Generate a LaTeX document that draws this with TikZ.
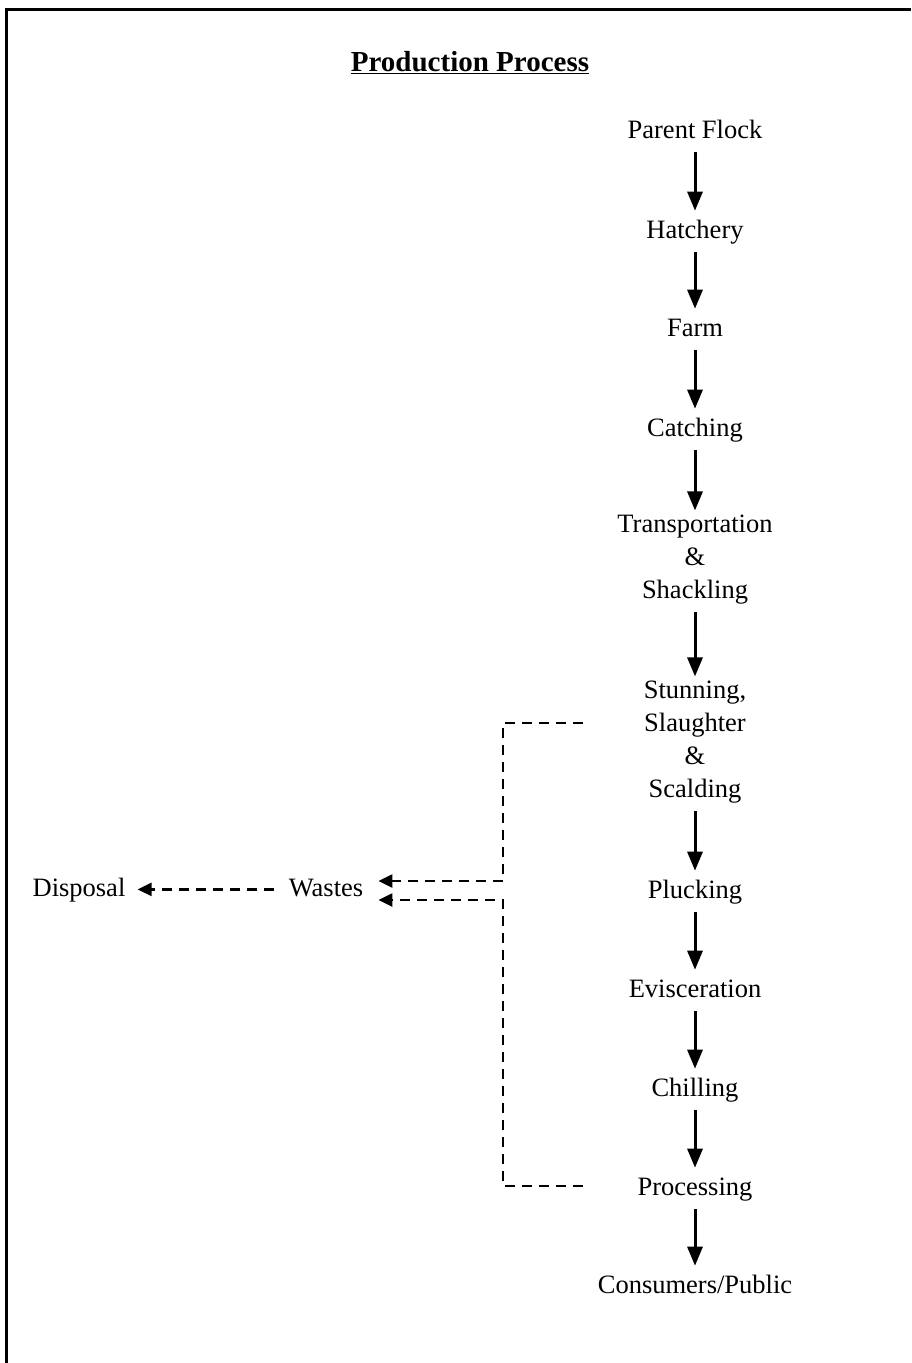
\documentclass[tikz,border=0pt]{standalone}
\usepackage{fontspec}
\setmainfont{Liberation Serif}
\usetikzlibrary{arrows.meta}
\tikzset{
  stage/.style={inner xsep=2pt, inner ysep=4pt, align=center,
    font=\fontsize{26.5}{33}\selectfont,
    execute at begin node=\strut, execute at end node=\strut},
  flow/.style={line width=3pt, -{Triangle[length=19pt,width=15pt]}},
  waste/.style={line width=2.3pt, dash pattern=on 10pt off 7pt,
    -{Triangle[length=14pt,width=13pt]}},
  frame/.style={line width=3pt}
}
\begin{document}
\begin{tikzpicture}[x=1pt,y=-1pt]
\useasboundingbox (0,0) rectangle (911,1363);
\draw[frame] (6,1363) -- (6,9) -- (911,9);
\node[font=\fontsize{29}{34}\selectfont\bfseries] (title) at (470,63) {\underline{Production Process}};
\node[stage] (pf) at (695,131.4) {Parent Flock};
\node[stage] (ha) at (695,231.4) {Hatchery};
\node[stage] (fa) at (695,329.4) {Farm};
\node[stage] (ca) at (695,429.4) {Catching};
\node[stage] (tr) at (695,561.4) {Transportation\\\&\\Shackling};
\node[stage] (st) at (695,743.9) {Stunning,\\Slaughter\\\&\\Scalding};
\node[stage] (pl) at (695,891.4) {Plucking};
\node[stage] (ev) at (695,990.4) {Evisceration};
\node[stage] (ch) at (695,1089.4) {Chilling};
\node[stage] (pr) at (695,1188.4) {Processing};
\node[stage] (co) at (695,1286.4) {Consumers/Public};
\node[stage, inner xsep=15pt] (wa) at (326,889.4) {Wastes};
\node[stage, inner xsep=12pt] (di) at (79,889.4) {Disposal};
\draw[flow] (pf) -- (ha);
\draw[flow] (ha) -- (fa);
\draw[flow] (fa) -- (ca);
\draw[flow] (ca) -- (tr);
\draw[flow] (tr) -- (st);
\draw[flow] (st) -- (pl);
\draw[flow] (pl) -- (ev);
\draw[flow] (ev) -- (ch);
\draw[flow] (ch) -- (pr);
\draw[flow] (pr) -- (co);
\coordinate (s1) at (583,723);
\coordinate (k1) at (503,723);
\coordinate (s2) at (583,1186);
\coordinate (k2) at (503,1186);
\draw[waste] (s1) -- (k1) |- ([yshift=8.4pt]wa.east);
\draw[waste] (s2) -- (k2) |- ([yshift=-10.6pt]wa.east);
\draw[waste] (wa.west) -- (di.east);
\end{tikzpicture}
\end{document}
